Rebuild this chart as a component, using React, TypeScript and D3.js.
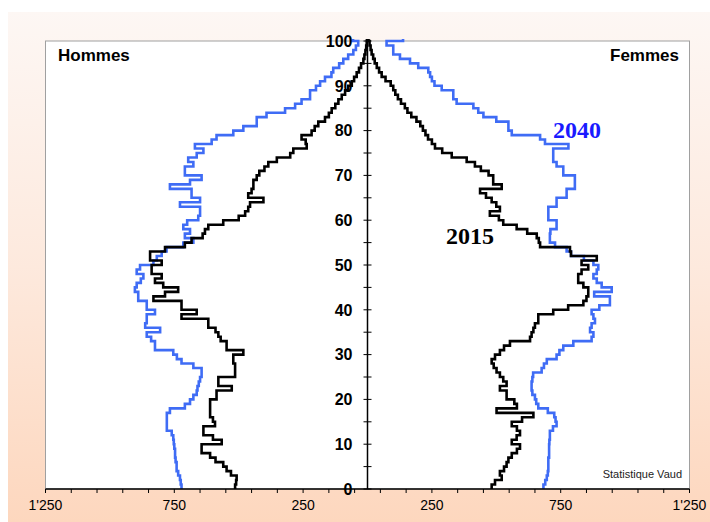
import React from "react";
import * as d3 from "d3";

const ages: number[] = d3.range(0, 101);

const men2015: number[] = [
  514, 510, 508, 530, 547, 560, 590, 611, 644, 644,
  566, 600, 637, 637, 592, 600, 611, 611, 611, 611,
  586, 586, 527, 579, 579, 514, 514, 514, 521, 521,
  482, 547, 547, 570, 579, 590, 618, 618, 722, 663,
  722, 722, 831, 786, 735, 793, 825, 799, 838, 838,
  799, 844, 844, 786, 709, 683, 640, 631, 618, 560,
  500, 475, 463, 456, 404, 463, 450, 443, 443, 430,
  420, 400, 385, 352, 300, 288, 236, 240, 256, 217,
  205, 191, 165, 150, 139, 125, 113, 100, 87, 75,
  61, 52, 42, 33, 25, 16, 12, 8, 5, 3,
  2,
];

const women2015: number[] = [
  482, 495, 521, 514, 530, 540, 547, 560, 580, 592,
  560, 579, 592, 580, 560, 600, 644, 501, 580, 570,
  540, 540, 514, 540, 527, 514, 501, 490, 482, 495,
  514, 530, 553, 631, 637, 644, 650, 663, 663, 721,
  779, 838, 850, 857, 857, 838, 818, 818, 831, 857,
  831, 890, 790, 786, 670, 665, 657, 620, 579, 527,
  510, 475, 514, 500, 482, 460, 437, 521, 488, 488,
  470, 440, 417, 385, 327, 290, 262, 250, 235, 225,
  215, 205, 190, 170, 155, 145, 130, 118, 108, 100,
  90, 70, 55, 45, 36, 28, 22, 16, 12, 8,
  4,
];

const men2040: number[] = [
  722, 725, 728, 735, 741, 741, 745, 747, 747, 750,
  752, 754, 760, 779, 779, 779, 779, 767, 709, 689,
  676, 663, 660, 655, 650, 644, 644, 676, 722, 740,
  754, 825, 825, 840, 857, 805, 863, 857, 857, 825,
  857, 857, 890, 890, 903, 896, 880, 870, 896, 883,
  831, 818, 799, 780, 715, 676, 709, 689, 715, 700,
  657, 650, 650, 728, 650, 683, 683, 767, 689, 644,
  709, 709, 676, 696, 663, 637, 670, 605, 586, 521,
  482, 430, 430, 392, 320, 281, 256, 223, 223, 200,
  184, 165, 140, 133, 110, 94, 75, 55, 45, 36,
  56,
];

const women2040: number[] = [
  683, 690, 696, 700, 702, 702, 702, 705, 705, 705,
  706, 708, 708, 720, 734, 730, 725, 700, 663, 655,
  650, 640, 637, 637, 640, 643, 676, 685, 696, 734,
  745, 760, 799, 870, 877, 864, 870, 883, 877, 870,
  900, 941, 941, 880, 948, 909, 890, 877, 890, 896,
  877, 840, 790, 773, 728, 708, 708, 710, 734, 734,
  702, 702, 702, 734, 734, 773, 773, 805, 805, 805,
  760, 760, 734, 721, 721, 721, 780, 689, 670, 560,
  547, 547, 500, 450, 430, 411, 346, 333, 333, 288,
  260, 250, 243, 236, 197, 165, 126, 100, 100, 74,
  138,
];

const yTicksMajor: number[] = [0, 10, 20, 30, 40, 50, 60, 70, 80, 90, 100];
const yTicksMinor: number[] = [5, 15, 25, 35, 45, 55, 65, 75, 85, 95];
const xTickValues: number[] = [50, 150, 250, 350, 450, 550, 650, 750, 850, 950, 1050, 1150, 1250];
const xLabelValues: number[] = [250, 750, 1250];
const xLabelTexts: string[] = ["250", "750", "1'250"];

const W = 710;
const H = 522;
const left = 45.5;
const right = 689.5;
const top = 41;
const bottom = 489;
const cx = (left + right) / 2;

const xL = d3.scaleLinear().domain([0, 1250]).range([cx, left]);
const xR = d3.scaleLinear().domain([0, 1250]).range([cx, right]);
const y = d3.scaleLinear().domain([0, 100]).range([bottom, top]);

function stepPath(values: number[], sx: d3.ScaleLinear<number, number>): string {
  const pts: [number, number][] = ages.map((a, i) => [sx(values[i]), y(a)]);
  pts.push([sx(values[values.length - 1]), y(101)]);
  const line = d3.line<[number, number]>().x((d) => d[0]).y((d) => d[1]).curve(d3.curveStepBefore);
  return line(pts) || "";
}

const BLUE = "#3f6cf5";

export default function App() {
  const font = "Arial, 'Liberation Sans', Helvetica, sans-serif";
  const serif = "'Times New Roman', 'Liberation Serif', serif";
  return (
    <div style={{ position: "absolute", left: 0, top: 0, width: W, height: H }}>
      <svg width={W} height={H} style={{ display: "block" }}>
        <defs>
          <linearGradient id="bg" x1="0" y1="0" x2="0" y2="1">
            <stop offset="0%" stopColor="#fdf7f4" />
            <stop offset="50%" stopColor="#fde9dd" />
            <stop offset="100%" stopColor="#fdd7be" />
          </linearGradient>
          <clipPath id="plotclip">
            <rect x={left - 2} y={top - 2} width={right - left + 4} height={bottom - top + 2} />
          </clipPath>
        </defs>
        <rect x={0} y={0} width={W} height={H} fill="#ffffff" />
        <rect x={8} y={12} width={W - 8} height={H - 12} fill="url(#bg)" />
        <rect x={left} y={top} width={right - left} height={bottom - top} fill="#ffffff" stroke="#a0a0a0" strokeWidth={1} />

        <g clipPath="url(#plotclip)" fill="none" strokeWidth={2.6} strokeLinejoin="miter">
          <path d={stepPath(men2040, xL)} stroke={BLUE} />
          <path d={stepPath(women2040, xR)} stroke={BLUE} />
          <path d={stepPath(men2015, xL)} stroke="#000" />
          <path d={stepPath(women2015, xR)} stroke="#000" />
        </g>

        {/* central axis */}
        <line x1={cx} x2={cx} y1={top} y2={bottom} stroke="#000" strokeWidth={1.5} />
        {yTicksMajor.concat(yTicksMinor).map((t) => (
          <line key={"yt" + t} x1={cx - 4} x2={cx + 4} y1={y(t)} y2={y(t)} stroke="#000" strokeWidth={1} />
        ))}
        {yTicksMajor.map((t) => (
          <text key={"yl" + t} x={cx - 15} y={y(t)} dy="0.36em" textAnchor="end" fontFamily={font} fontWeight="bold" fontSize={16} fill="#000">
            {t}
          </text>
        ))}

        {/* bottom axis */}
        <line x1={left} x2={right} y1={bottom} y2={bottom} stroke="#000" strokeWidth={1.5} />
        {xTickValues.map((t) => (
          <g key={"xt" + t}>
            <line x1={xL(t)} x2={xL(t)} y1={bottom} y2={bottom + 4} stroke="#000" strokeWidth={1} />
            <line x1={xR(t)} x2={xR(t)} y1={bottom} y2={bottom + 4} stroke="#000" strokeWidth={1} />
          </g>
        ))}
        {xLabelValues.map((t, i) => (
          <g key={"xl" + t}>
            <text x={xL(t)} y={bottom + 21} textAnchor="middle" fontFamily={font} fontSize={14} fill="#000">
              {xLabelTexts[i]}
            </text>
            <text x={xR(t)} y={bottom + 21} textAnchor="middle" fontFamily={font} fontSize={14} fill="#000">
              {xLabelTexts[i]}
            </text>
          </g>
        ))}

        <text x={58} y={61} fontFamily={font} fontWeight="bold" fontSize={17} fill="#000">Hommes</text>
        <text x={679} y={61} textAnchor="end" fontFamily={font} fontWeight="bold" fontSize={17} fill="#000">Femmes</text>
        <text x={553} y={138} fontFamily={serif} fontWeight="bold" fontSize={24} fill="#1a1aff">2040</text>
        <text x={446} y={244} fontFamily={serif} fontWeight="bold" fontSize={24} fill="#000">2015</text>
        <text x={682} y={478} textAnchor="end" fontFamily={font} fontSize={11} fill="#222">Statistique Vaud</text>
      </svg>
    </div>
  );
}
